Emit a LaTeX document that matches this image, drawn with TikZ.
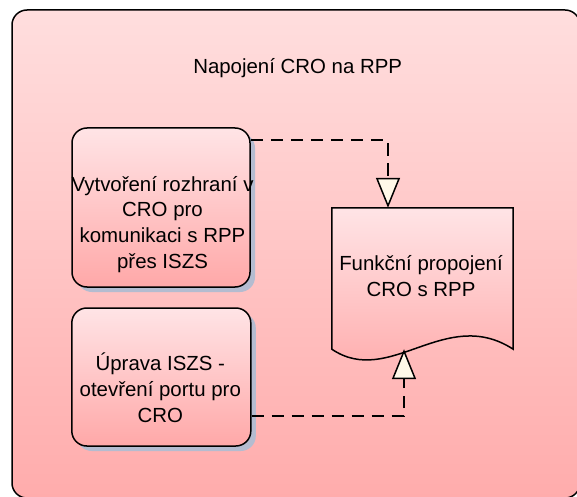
\documentclass[tikz,border=0pt]{standalone}
\usepackage{fontspec}
\setmainfont{Liberation Sans}
\usetikzlibrary{arrows.meta, shadows}
\definecolor{paneltop}{RGB}{255,222,222}
\definecolor{panelbottom}{RGB}{255,172,172}
\definecolor{boxtop}{RGB}{255,228,230}
\definecolor{boxbottom}{RGB}{255,168,168}
\definecolor{shadowblue}{RGB}{180,188,208}
\definecolor{tipfill}{RGB}{255,248,232}

\begin{document}
\begin{tikzpicture}[x=1bp, y=-1bp,
    procbox/.style={draw, line width=1.5bp, rounded corners=15bp,
      top color=boxtop, bottom color=boxbottom, inner sep=0pt,
      drop shadow={shadow xshift=5bp, shadow yshift=-5bp,
        fill=shadowblue, opacity=1}},
    boxtext/.style={font=\fontsize{20.5}{26}\selectfont, align=center,
      inner sep=0pt},
    flowline/.style={line width=1.5bp, dash pattern=on 12.5bp off 7.5bp,
      -{Triangle[length=30bp, width=24bp, fill=tipfill]}}]
  \useasboundingbox (0, 0) rectangle (577, 497);
  \draw[line width=1.5bp, rounded corners=15bp, top color=paneltop,
    bottom color=panelbottom] (12, 10) rectangle (580, 498);
  \node[boxtext, anchor=base] (nadpis) at (297.7, 73.3) {Napojení CRO na RPP};

  \node[procbox, minimum width=178bp, minimum height=159bp] (rozhrani)
    at (161, 207.5) {};
  \node[boxtext] at ([xshift=1.5bp, yshift=-17bp]rozhrani.center)
    {Vytvoření rozhraní v\\CRO pro\\komunikaci s RPP\\přes ISZS};
  \node[procbox, minimum width=179bp, minimum height=138bp] (uprava)
    at (161.3, 377) {};
  \node[boxtext] at ([xshift=-1bp, yshift=-10.8bp]uprava.center)
    {Úprava ISZS -\\otevření portu pro\\CRO};

  \path node[minimum width=181bp, minimum height=141bp, inner sep=0pt]
    (propojeni) at (422.5, 278.5) {};
  \fill[shadowblue, shift={(5, 5)}] (propojeni.north west)
    -- (propojeni.north east) -- (propojeni.south east)
    .. controls +(-68, -44) and +(58, 39) .. (propojeni.south west) -- cycle;
  \draw[line width=1.5bp, top color=boxtop, bottom color=boxbottom]
    (propojeni.north west) -- (propojeni.north east) -- (propojeni.south east)
    .. controls +(-68, -44) and +(58, 39) .. (propojeni.south west) -- cycle;
  \node[boxtext] at ([xshift=-1.5bp, yshift=2.2bp]propojeni.center)
    {Funkční propojení\\CRO s RPP};

  \draw[flowline] ([yshift=-13bp]rozhrani.north east)
    -| ([xshift=-34.5bp]propojeni.north);
  \draw[flowline] ([yshift=31bp]uprava.south east)
    -| ([xshift=-18.5bp]propojeni.south);
\end{tikzpicture}
\end{document}
